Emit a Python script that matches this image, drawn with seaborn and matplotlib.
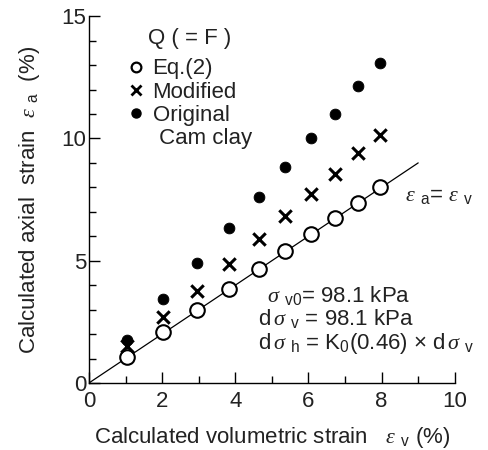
import matplotlib
matplotlib.use("Agg")
import matplotlib.pyplot as plt
import seaborn as sns
import pandas as pd
from matplotlib.lines import Line2D
from matplotlib.ticker import MultipleLocator

sns.set_theme(style="ticks")
plt.rcParams['font.family'] = ['Liberation Sans', 'DejaVu Sans']
plt.rcParams['mathtext.fontset'] = 'custom'
plt.rcParams['mathtext.rm'] = 'Liberation Sans'
plt.rcParams['mathtext.it'] = 'Liberation Serif:italic'
plt.rcParams['mathtext.sf'] = 'Liberation Sans'

# Data
ev_eq2 = [1.03, 2.03, 2.96, 3.83, 4.64, 5.36, 6.06, 6.73, 7.35, 7.95]
ea_eq2 = [1.05, 2.07, 2.98, 3.85, 4.66, 5.39, 6.09, 6.73, 7.37, 8.00]
ea_mod = [1.50, 2.68, 3.76, 4.85, 5.88, 6.84, 7.72, 8.54, 9.41, 10.13]
ea_orig = [1.76, 3.43, 4.92, 6.35, 7.61, 8.84, 10.03, 11.02, 12.14, 13.07]
line_x = [0, 9]
line_y = [0, 9]

df = pd.DataFrame({"ev": ev_eq2, "eq2": ea_eq2, "mod": ea_mod, "orig": ea_orig})
dl = pd.DataFrame({"x": line_x, "y": line_y})

TXT = "#222222"
FS = 16

fig = plt.figure(figsize=(4.89, 4.50), dpi=100)
ax = fig.add_axes([0.182, 0.149, 0.748, 0.815])

sns.lineplot(data=dl, x="x", y="y", ax=ax, color="black", lw=0.9, zorder=1)
sns.scatterplot(data=df, x="ev", y="eq2", ax=ax, marker="o", s=110,
                facecolor="white", edgecolor="black", linewidth=1.5, zorder=3)
sns.scatterplot(data=df, x="ev", y="mod", ax=ax, marker="x", s=80,
                color="black", linewidth=2.2, zorder=3)
sns.scatterplot(data=df, x="ev", y="orig", ax=ax, marker="o", s=60,
                color="black", edgecolor="black", zorder=3)

ax.set_xlim(0, 10)
ax.set_ylim(0, 15)
ax.xaxis.set_major_locator(MultipleLocator(2))
ax.xaxis.set_minor_locator(MultipleLocator(1))
ax.yaxis.set_major_locator(MultipleLocator(5))
ax.yaxis.set_minor_locator(MultipleLocator(1))
ax.tick_params(which="major", direction="in", length=8, width=1, labelsize=FS,
               color="black", labelcolor=TXT, pad=2)
ax.tick_params(axis="x", which="major", pad=6)
ax.tick_params(which="minor", direction="in", length=5, width=1, color="black")
sns.despine(ax=ax)
for sp in ["left", "bottom"]:
    ax.spines[sp].set_color("black")
    ax.spines[sp].set_linewidth(1.0)

ax.set_xlabel("Calculated volumetric strain   $ε$ $_{\\rm v}$ (%)", fontsize=FS,
              color=TXT, labelpad=9)
ax.set_ylabel("Calculated axial  strain  $ε$ $_{\\rm a}$  (%)", fontsize=FS,
              color=TXT, labelpad=14)

handles = [
    Line2D([], [], ls="none", marker="o", ms=7, mfc="white", mec="black", mew=1.6),
    Line2D([], [], ls="none", marker="x", ms=6.5, color="black", mew=2.0),
    Line2D([], [], ls="none", marker="o", ms=6.5, color="black"),
    Line2D([], [], ls="none", marker=None),
]
labels = ["Eq.(2)", "Modified", "Original", " Cam clay"]
leg = ax.legend(handles, labels, loc="upper left", bbox_to_anchor=(0.104, 0.885),
                frameon=False, fontsize=FS, handlelength=0.8, handletextpad=0.35,
                labelspacing=0.1, borderaxespad=0, borderpad=0)
for t in leg.get_texts():
    t.set_color(TXT)
ax.text(1.61, 14.08, "Q ( = F )", fontsize=FS, color=TXT, va="center")

ax.text(8.63, 7.68, "$ε$ $_{\\rm a}$= $ε$ $_{\\rm v}$", fontsize=FS, color=TXT, va="center")
ax.text(4.86, 3.56, "$σ$ $_{\\rm v0}$= 98.1 kPa", fontsize=FS, color=TXT, va="center")
ax.text(4.62, 2.62, "d$\\,σ$ $_{\\rm v}$ = 98.1 kPa", fontsize=FS, color=TXT, va="center")
ax.text(4.62, 1.63, "d$\\,σ$ $_{\\rm h}$ = K$_0$(0.46) × d$\\,σ$ $_{\\rm v}$", fontsize=FS,
        color=TXT, va="center")

fig.savefig("out.png", dpi=100)
